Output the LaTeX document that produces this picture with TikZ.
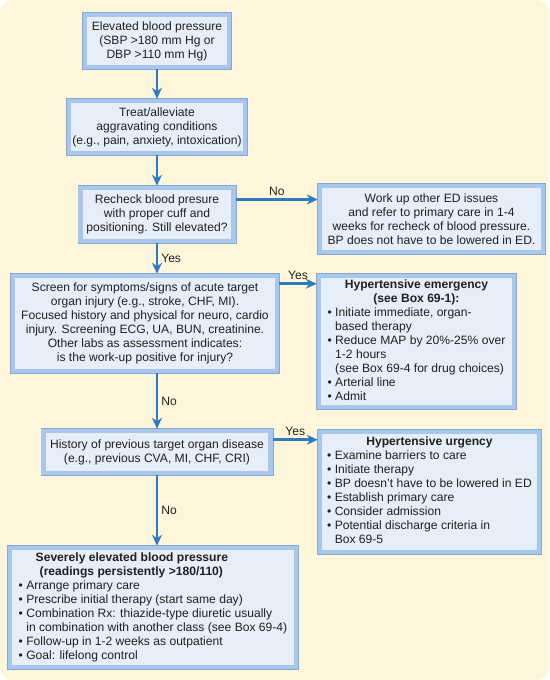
\documentclass[tikz,border=0pt]{standalone}
\usepackage{fontspec}
\setmainfont{Liberation Sans}
\usepackage{xcolor}
\usetikzlibrary{positioning, arrows.meta}

\definecolor{bgcream}{HTML}{FDF6DA}
\definecolor{boxfill}{HTML}{E5EEF9}
\definecolor{boxbevel}{HTML}{A9C7EA}
\definecolor{boxrim}{HTML}{86A8D4}
\definecolor{arrowblue}{HTML}{2F7BC0}
\definecolor{inkgray}{HTML}{231F20}

\newcommand{\itm}{\textbullet\ }
\newcommand{\contline}{\phantom{\textbullet\ }}

\begin{document}
\begin{tikzpicture}[x=1pt, y=1pt, auto,
    font=\fontsize{12.1}{14}\selectfont, text=inkgray,
    box/.style={rectangle, draw=boxbevel, line width=4.5pt, fill=boxfill, preaction={draw=boxrim, line width=6pt}, align=center, inner sep=2pt},
    flow/.style={-{Stealth[length=11pt, width=10pt]}, draw=arrowblue, line width=2.6pt},
    answer/.style={text=inkgray, inner sep=3pt}]
    \useasboundingbox (0,0) rectangle (549,-680);
    \fill[bgcream, rounded corners=12pt] (0,0) rectangle (549,-680);

    \node (bp) [box, minimum width=144pt, minimum height=52pt] at (157,-41) {Elevated blood pressure\\(SBP >180 mm Hg or\\DBP >110 mm Hg)};
    \node (treat) [box, below of=bp, node distance=86pt, minimum width=176pt, minimum height=52pt] {Treat/alleviate\\aggravating conditions\\(e.g., pain, anxiety, intoxication)};
    \node (recheck) [box, below of=treat, node distance=87.5pt, minimum width=153pt, minimum height=53pt] {Recheck blood presure\\with proper cuff and\\positioning. Still elevated?};
    \node (workup) [box, right of=recheck, node distance=274.5pt, yshift=-4.5pt, minimum width=223pt, minimum height=66pt] {Work up other ED issues\\and refer to primary care in 1-4\\weeks for recheck of blood pressure.\\BP does not have to be lowered in ED.};
    \node (screen) [box, below of=recheck, node distance=109pt, xshift=-12pt, minimum width=264pt, minimum height=95pt] {Screen for symptoms/signs of acute target\\organ injury (e.g., stroke, CHF, MI).\\Focused history and physical for neuro, cardio\\injury. Screening ECG, UA, BUN, creatinine.\\Other labs as assessment indicates:\\is the work-up positive for injury?};
    \node (emerg) [box, right of=screen, node distance=271.5pt, yshift=-18pt, minimum width=195pt, minimum height=131pt] {\begin{tabular}{@{}l@{}}
        \multicolumn{1}{@{}c@{}}{\textbf{Hypertensive emergency}}\\
        \multicolumn{1}{@{}c@{}}{\textbf{(see Box 69-1):}}\\
        \itm Initiate immediate, organ-\\
        \contline based therapy\\
        \itm Reduce MAP by 20\%-25\% over\\
        \contline 1-2 hours\\
        \contline (see Box 69-4 for drug choices)\\
        \itm Arterial line\\
        \itm Admit
    \end{tabular}};
    \node (history) [box, below of=screen, node distance=128.5pt, xshift=12pt, minimum width=227pt, minimum height=42pt] {History of previous target organ disease\\(e.g., previous CVA, MI, CHF, CRI)};
    \node (urgency) [box, right of=history, node distance=272.5pt, yshift=-40pt, minimum width=219pt, minimum height=120pt] {\begin{tabular}{@{}l@{}}
        \multicolumn{1}{@{}c@{}}{\textbf{Hypertensive urgency}}\\
        \itm Examine barriers to care\\
        \itm Initiate therapy\\
        \itm BP doesn’t have to be lowered in ED\\
        \itm Establish primary care\\
        \itm Consider admission\\
        \itm Potential discharge criteria in\\
        \contline Box 69-5
    \end{tabular}};
    \node (severe) [box, below of=history, node distance=155.5pt, xshift=-4pt, minimum width=286pt, minimum height=119pt] {\begin{tabular}{@{}l@{}}
        \hspace*{17pt}\textbf{Severely elevated blood pressure}\\
        \hspace*{21pt}\textbf{(readings persistently >180/110)}\\
        \itm Arrange primary care\\
        \itm Prescribe initial therapy (start same day)\\
        \itm Combination Rx: thiazide-type diuretic usually\\
        \contline in combination with another class (see Box 69-4)\\
        \itm Follow-up in 1-2 weeks as outpatient\\
        \itm Goal: lifelong control
    \end{tabular}};

    \draw[flow] (bp) -- (treat);
    \draw[flow] (treat) -- (recheck);
    \draw[flow] ([yshift=15pt]recheck.east) -- node[answer, above] {No} ([yshift=15pt]recheck.east -| workup.west);
    \draw[flow] (recheck.south) -- node[answer, right] {Yes} (recheck.south |- screen.north);
    \draw[flow] ([yshift=-10pt]screen.north east) -- node[answer, above] {Yes} ([yshift=-10pt]screen.north east -| emerg.west);
    \draw[flow] (recheck.south |- screen.south) -- node[answer, right] {No} (recheck.south |- history.north);
    \draw[flow] ([yshift=-11pt]history.north east) -- node[answer, above] {Yes} ([yshift=-11pt]history.north east -| urgency.west);
    \draw[flow] (history.south) -- node[answer, right] {No} (history.south |- severe.north);
\end{tikzpicture}
\end{document}
